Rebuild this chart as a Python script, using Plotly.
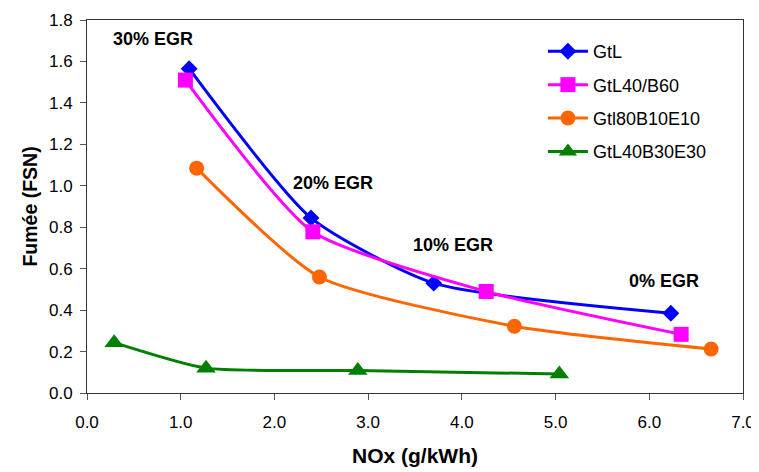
import plotly.graph_objects as go

# Data
gtl_x = [1.09, 2.39, 3.70, 6.23]
gtl_y = [1.565, 0.845, 0.53, 0.385]

gtl40b60_x = [1.05, 2.41, 4.26, 6.34]
gtl40b60_y = [1.51, 0.778, 0.49, 0.283]

gtl80b10e10_x = [1.17, 2.48, 4.56, 6.66]
gtl80b10e10_y = [1.085, 0.56, 0.322, 0.212]

gtl40b30e30_x = [0.29, 1.27, 2.89, 5.04]
gtl40b30e30_y = [0.243, 0.12, 0.108, 0.092]

series_names = ["GtL", "GtL40/B60", "Gtl80B10E10", "GtL40B30E30"]
x_tick_vals = [0, 1, 2, 3, 4, 5, 6, 7]
y_tick_vals = [0, 0.2, 0.4, 0.6, 0.8, 1.0, 1.2, 1.4, 1.6, 1.8]

egr_labels = ["30% EGR", "20% EGR", "10% EGR", "0% EGR"]
egr_x = [0.70, 2.62, 3.91, 6.16]
egr_y = [1.71, 1.013, 0.715, 0.54]

FONT = "Liberation Sans, Arial, sans-serif"

series = [
    (gtl_x, gtl_y, "#0000FF", "diamond", 13),
    (gtl40b60_x, gtl40b60_y, "#FF00FF", "square", 15),
    (gtl80b10e10_x, gtl80b10e10_y, "#FF6600", "circle", 15),
    (gtl40b30e30_x, gtl40b30e30_y, "#008000", "triangle-up", 17),
]

fig = go.Figure()
for i, (xs, ys, col, sym, sz) in enumerate(series):
    fig.add_trace(go.Scatter(
        x=xs, y=ys, name=series_names[i], mode="lines+markers",
        legendgroup=str(i),
        line=dict(color=col, width=3, shape="spline", smoothing=0.6),
        marker=dict(symbol=sym, size=sz, color=col, line=dict(width=0)),
    ))

for t, ax, ay in zip(egr_labels, egr_x, egr_y):
    fig.add_annotation(x=ax, y=ay, text="<b>%s</b>" % t, showarrow=False,
                       font=dict(family=FONT, size=18, color="#000000"))

axis_common = dict(
    showgrid=False, zeroline=False, showline=True, mirror=True,
    linecolor="#333333", linewidth=1, ticks="outside", ticklen=6,
    tickcolor="#555555", tickfont=dict(family=FONT, size=17, color="#000000"),
    automargin=False, ticklabeloverflow="allow",
)

fig.update_xaxes(range=[0, 7], tickvals=x_tick_vals, tickformat=".1f",
                 ticklabelstandoff=8,
                 title=dict(text="<b>NOx (g/kWh)</b>", standoff=16,
                            font=dict(family=FONT, size=21, color="#000000")),
                 **axis_common)
fig.update_yaxes(range=[0, 1.8], tickvals=y_tick_vals, tickformat=".1f",
                 ticklabelstandoff=4,
                 title=dict(text="<b>Fumée (FSN)</b>", standoff=6,
                            font=dict(family=FONT, size=19.5, color="#000000")),
                 **axis_common)

# page body has an 8px margin, so the figure is sized/offset to compensate
fig.update_layout(
    width=751, height=464,
    margin=dict(l=79, r=16, t=12, b=79),
    paper_bgcolor="white", plot_bgcolor="white",
    font=dict(family=FONT, color="#000000"),
    legend=dict(x=0.695, y=0.965, xanchor="left", yanchor="top",
                font=dict(family=FONT, size=18, color="#000000"),
                bgcolor="rgba(255,255,255,0)", tracegroupgap=7,
                itemwidth=40),
)

fig.write_html("out.html")
